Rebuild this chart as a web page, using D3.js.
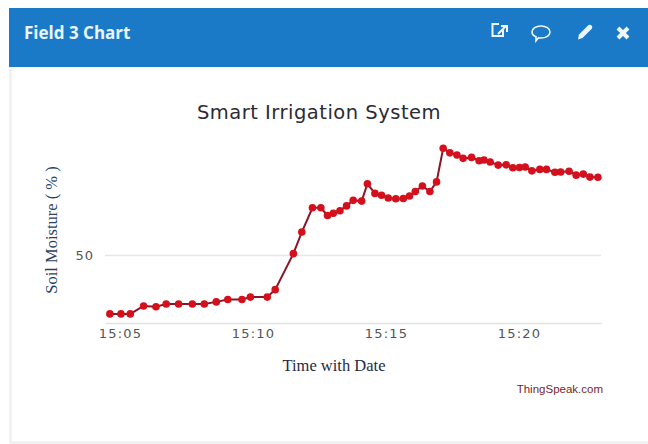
<!DOCTYPE html>
<html>
<head>
<meta charset="utf-8">
<script src="https://cdn.jsdelivr.net/npm/d3@7"></script>
<style>
  html, body { margin: 0; padding: 0; background: #fff; }
  svg { display: block; }
</style>
</head>
<body>
<div id="chart"></div>
<script>
var times = ["15:04:37","15:05:02","15:05:23","15:05:53","15:06:21","15:06:44","15:07:12","15:07:43","15:08:10","15:08:37",
  "15:09:03","15:09:35","15:09:54","15:10:32","15:10:50","15:11:31","15:11:50","15:12:14","15:12:33","15:12:48",
  "15:13:01","15:13:16","15:13:31","15:13:46","15:14:05","15:14:18","15:14:35","15:14:50","15:15:05","15:15:22",
  "15:15:39","15:15:53","15:16:06","15:16:22","15:16:39","15:16:54","15:17:09","15:17:24","15:17:40","15:17:54",
  "15:18:13","15:18:30","15:18:41","15:18:55","15:19:13","15:19:31","15:19:46","15:20:01","15:20:14","15:20:29",
  "15:20:47","15:21:02","15:21:21","15:21:34","15:21:53","15:22:09","15:22:25","15:22:40","15:22:58"];
var moisture = [25.5,25.5,25.5,28.8,28.5,29.6,29.6,29.6,29.6,30.5,
  31.5,31.5,32.5,32.5,35.6,50.6,59.6,69.7,69.7,66.5,
  67.4,68.5,70.5,72.8,72.5,79.7,75.7,74.9,73.8,73.5,
  73.6,74.6,76.5,78.8,76.5,80.5,94.5,92.6,91.7,90.3,
  90.7,89.3,89.6,88.8,87.5,87.6,86.4,86.5,86.7,85.1,
  85.7,85.7,84.5,84.6,84.9,83.3,83.75,82.5,82.4];
var xTicks = ["15:05","15:10","15:15","15:20"];
var yTicks = [50];
var xDomain = ["15:04:26","15:23:05"];
var yDomain = [21.7,100];

var width = 648, height = 444;
var margin = {top: 135, right: 47, bottom: 121, left: 105};
var parse = d3.timeParse("%H:%M:%S"), parseTick = d3.timeParse("%H:%M");

var data = times.map(function(t, i) { return {time: parse(t), value: moisture[i]}; });

var svg = d3.select("#chart").append("svg")
    .attr("width", width)
    .attr("height", height);

// panel
svg.append("rect").attr("x", 10.5).attr("y", 60).attr("width", 640).attr("height", 382.5)
    .attr("fill", "#fff").attr("stroke", "#ececec").attr("stroke-width", 2);
svg.append("rect").attr("x", 9).attr("y", 8).attr("width", 639).attr("height", 59).attr("fill", "#1a7ac8");
svg.append("text").attr("x", 24).attr("y", 39)
    .attr("font-family", "'Open Sans', sans-serif").attr("font-size", 17).attr("font-weight", 700)
    .attr("fill", "#eaf5fb").text("Field 3 Chart");

// header icons
var icons = svg.append("g").attr("fill", "none").attr("stroke", "#eef6fb");
icons.append("path").attr("d", "M402,28V27H396.5V39H407V33")
    .attr("transform", "translate(96,-3)").attr("stroke-width", 2);
icons.append("path").attr("d", "M498,34L506,26M501,26H507V32").attr("stroke-width", 2);
icons.append("path").attr("d", "M541,26c5,0,9,2.500,9,6s-4,6-9,6c-1,0-2,0-2.500,-0.300l-2.500,3v-4c-2.500,-1-4,-2.800-4,-4.700c0,-3.500,4,-6,9,-6z")
    .attr("stroke-width", 1.6);
icons.append("path").attr("d", "M578,39.500l1,-5l9,-9c1,-1,2.500,-1,3.500,0c1,1,1,2.500,0,3.500l-9,9z")
    .attr("fill", "#eef6fb").attr("stroke", "none");
icons.append("path").attr("d", "M618,28L628,38M628,28L618,38").attr("stroke-width", 4);

var x = d3.scaleTime()
    .domain(xDomain.map(parse))
    .range([margin.left, width - margin.right]);
var y = d3.scaleLinear()
    .domain(yDomain)
    .range([height - margin.bottom, height - margin.bottom - (yDomain[1] - yDomain[0]) * 2.4]);

var tickFont = "'DejaVu Sans', sans-serif";

svg.append("text").attr("x", 319).attr("y", 119).attr("text-anchor", "middle")
    .attr("font-family", tickFont).attr("font-size", 19.5).attr("letter-spacing", 0.5)
    .attr("fill", "#2b2b33").text("Smart Irrigation System");

var gy = svg.append("g")
    .attr("transform", "translate(" + margin.left + ",0)")
    .call(d3.axisLeft(y).tickValues(yTicks).tickSize(-(width - margin.left - margin.right)).tickPadding(11));
gy.select(".domain").remove();
gy.selectAll(".tick line").attr("stroke", "#e6e6e6").attr("stroke-width", 1.5);
gy.selectAll(".tick text").attr("font-family", tickFont).attr("font-size", 13)
    .attr("letter-spacing", 1).attr("fill", "#555");

var gx = svg.append("g")
    .attr("transform", "translate(0," + (height - margin.bottom) + ")")
    .call(d3.axisBottom(x).tickValues(xTicks.map(parseTick)).tickFormat(d3.timeFormat("%H:%M")).tickSize(0).tickPadding(6));
gx.select(".domain").attr("stroke", "#e2e2e2").attr("stroke-width", 1.5);
gx.selectAll(".tick text").attr("font-family", tickFont).attr("font-size", 13)
    .attr("letter-spacing", 1.2).attr("fill", "#555");

var line = d3.line()
    .x(function(d) { return x(d.time); })
    .y(function(d) { return y(d.value); });

svg.append("path").datum(data)
    .attr("d", line)
    .attr("fill", "none")
    .attr("stroke", "#8a1526")
    .attr("stroke-width", 2);

svg.selectAll(".pt").data(data).enter().append("circle")
    .attr("class", "pt")
    .attr("cx", function(d) { return x(d.time); })
    .attr("cy", function(d) { return y(d.value); })
    .attr("r", 3.8)
    .attr("fill", "#d3101c");

svg.append("text").attr("x", 334).attr("y", 371).attr("text-anchor", "middle")
    .attr("font-family", "'Liberation Serif', serif").attr("font-size", 16.5)
    .attr("fill", "#1f2a44").text("Time with Date");

svg.append("text").attr("transform", "translate(57,230) rotate(-90)").attr("text-anchor", "middle")
    .attr("font-family", "'Liberation Serif', serif").attr("font-size", 16.5)
    .attr("fill", "#2c3f63").text("Soil Moisture ( % )");

svg.append("text").attr("x", 603).attr("y", 393).attr("text-anchor", "end")
    .attr("font-family", "'Liberation Sans', sans-serif").attr("font-size", 11.5)
    .attr("fill", "#7a1f2e").text("ThingSpeak.com");
</script>
</body>
</html>
